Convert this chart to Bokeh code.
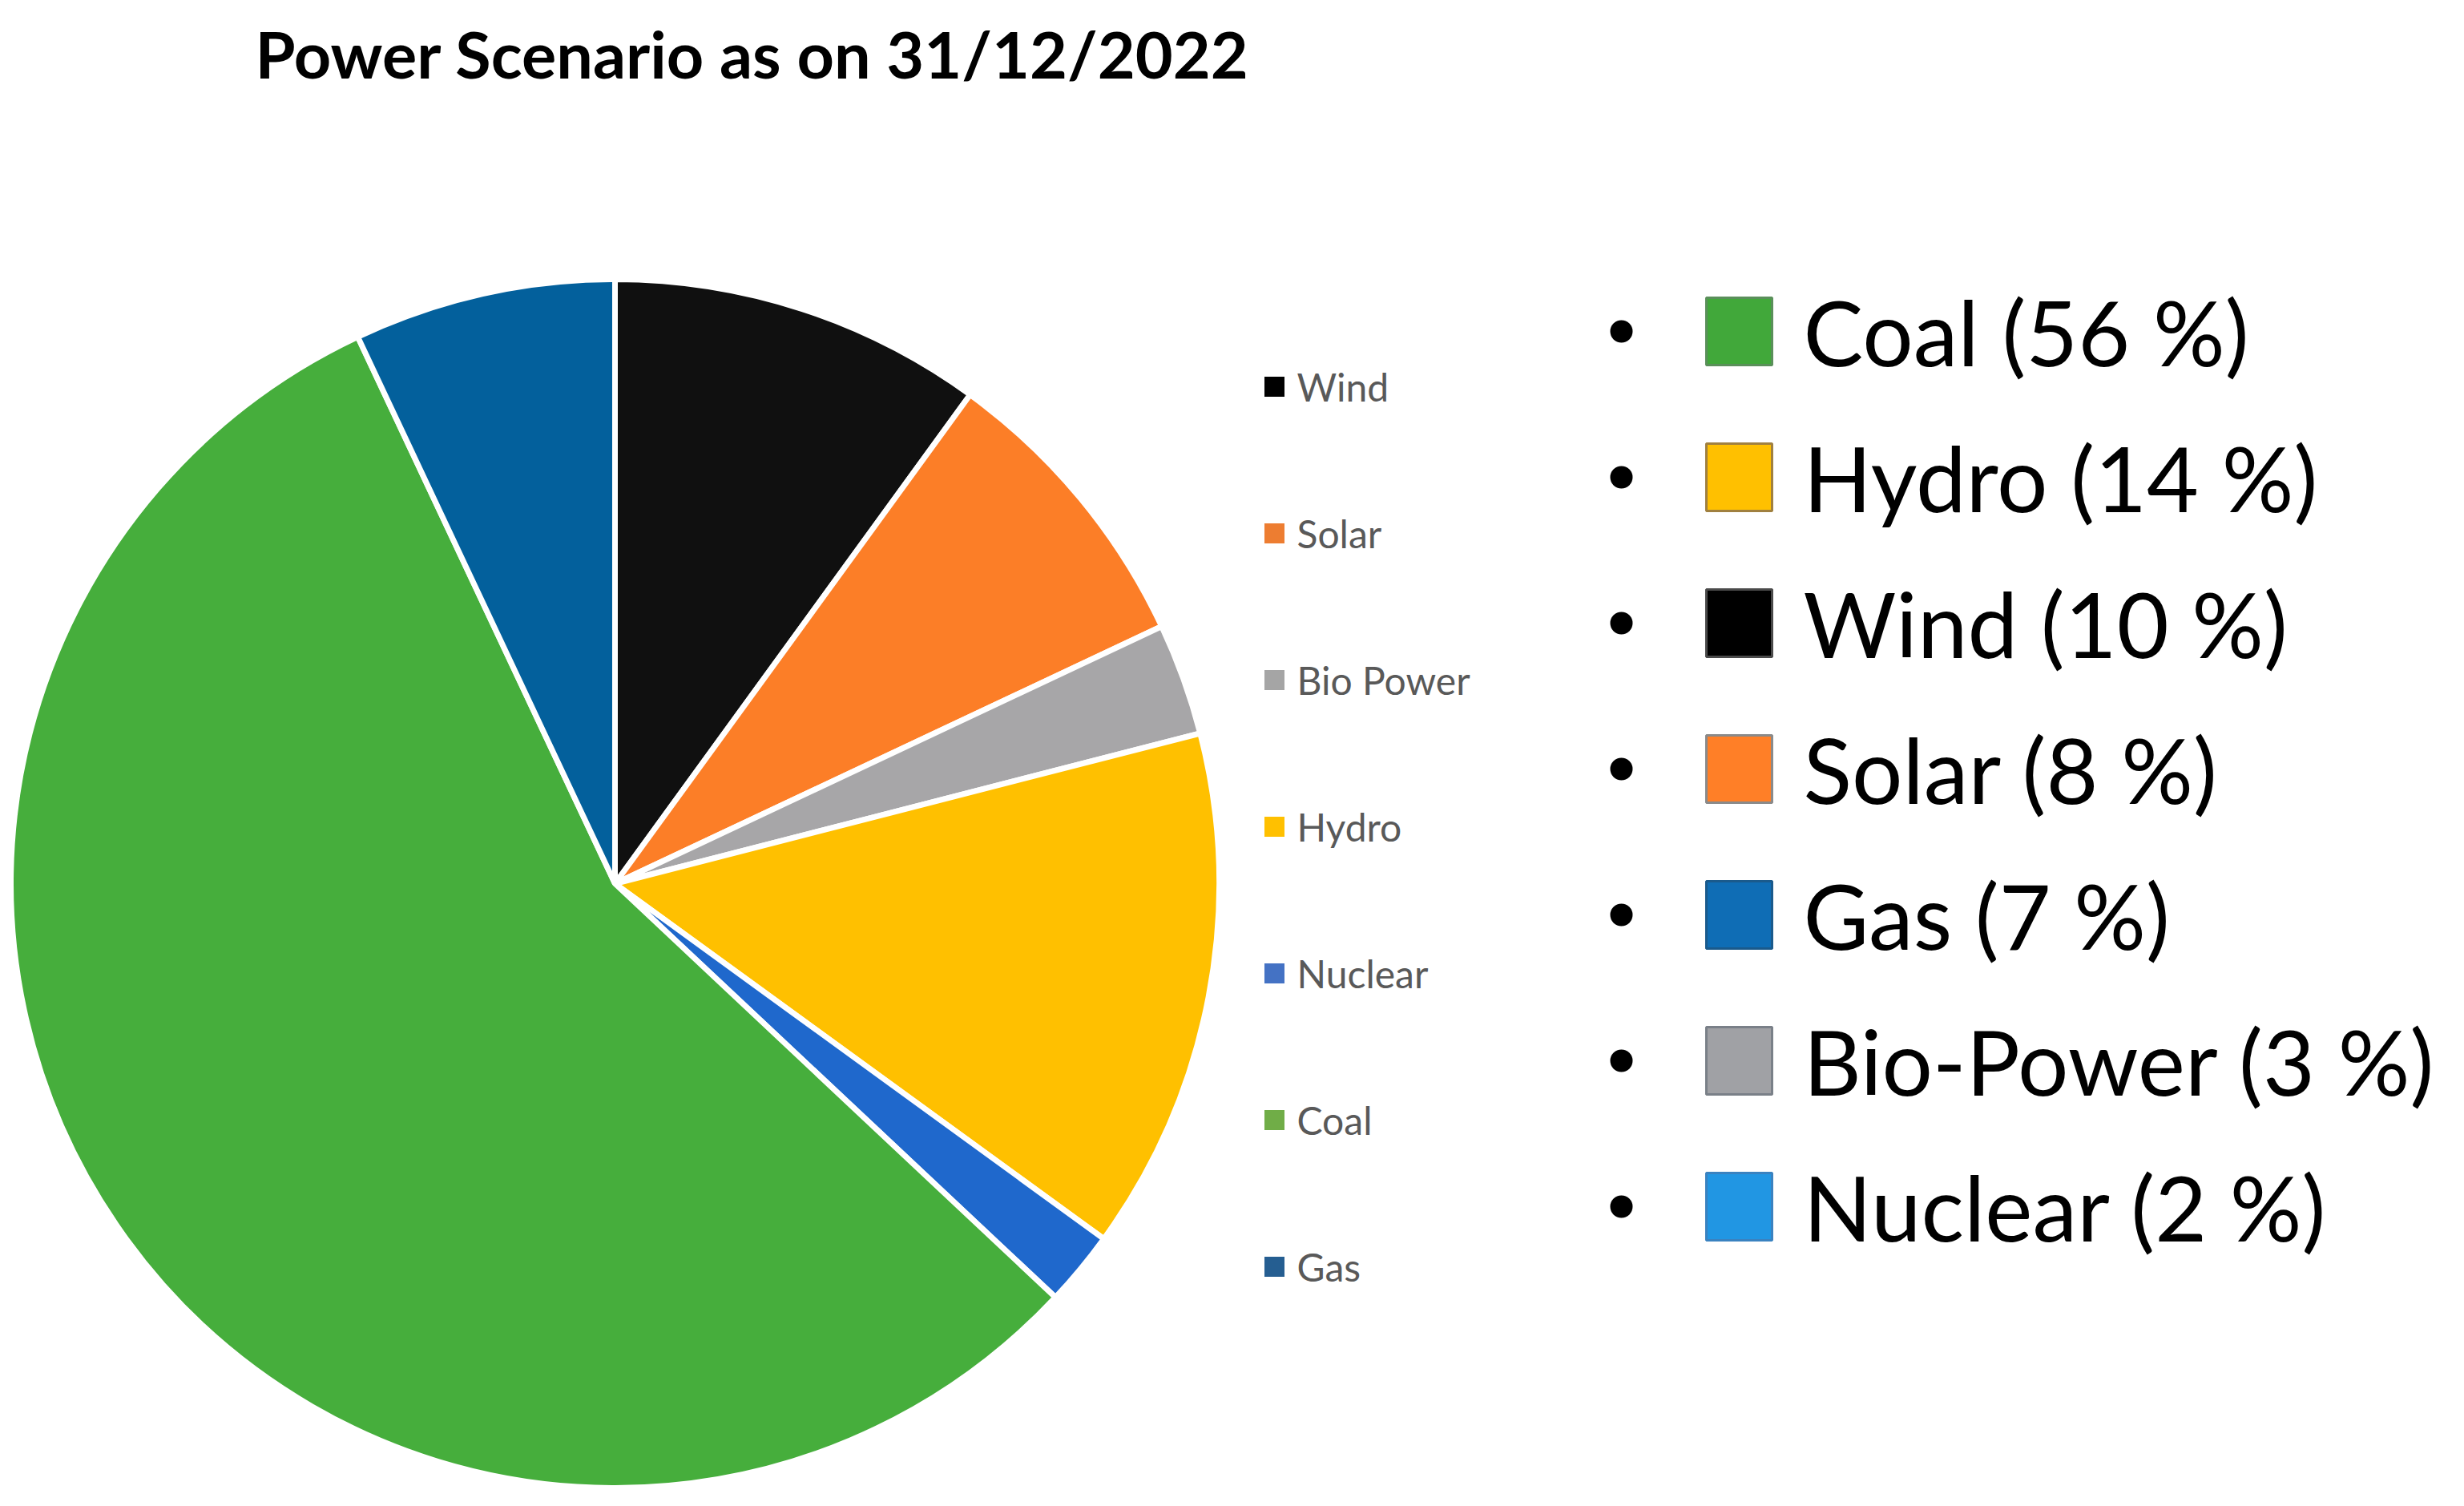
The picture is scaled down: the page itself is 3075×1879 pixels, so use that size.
import numpy as np
from bokeh.plotting import figure
from bokeh.models import Range1d, ColumnDataSource
from bokeh.core.properties import value
from bokeh.embed import file_html
from bokeh.resources import INLINE

# ---------------- data ----------------
title = "Power Scenario as on 31/12/2022"

pie_labels = ["Wind", "Solar", "Bio Power", "Hydro", "Nuclear", "Coal", "Gas"]
pie_shares = [10, 8, 3, 14, 2, 56, 7]
pie_colors = ["#101010", "#FC7E27", "#A7A6A8", "#FFC000", "#1F68CC", "#46AE3C", "#03609C"]
key_colors = ["#000000", "#ED7D31", "#A5A5A5", "#FFC000", "#4472C4", "#70AD47", "#255E91"]

list_labels = ["Coal", "Hydro", "Wind", "Solar", "Gas", "Bio-Power", "Nuclear"]
list_shares = [56, 14, 10, 8, 7, 3, 2]
list_fill = ["#41A83A", "#FFC000", "#000000", "#FF7F27", "#0F6DB5", "#A0A1A5", "#2196E3"]
list_line = ["#5A8F5A", "#A08040", "#4A4A4A", "#8A8A8A", "#1A5A8C", "#7A8088", "#3A82C0"]

# ---------------- layout (page pixels) ----------------
W, H = 3055, 1860
PAGE_H = 1879


def py(y):
    # page y (down) -> data y (up)
    return PAGE_H - y


p = figure(width=W, height=H, output_backend="svg", toolbar_location=None,
           x_range=Range1d(0, W), y_range=Range1d(PAGE_H - H, PAGE_H),
           x_axis_type=None, y_axis_type=None, min_border=0)
p.grid.visible = False
p.outline_line_color = None
p.background_fill_color = "white"
p.border_fill_color = "white"

# ---------------- pie ----------------
shares = np.array(pie_shares, dtype=float)
frac = shares / shares.sum()
cum_end = np.cumsum(frac)
cum_start = cum_end - frac
start_ang = np.pi / 2 - cum_end * 2 * np.pi
end_ang = np.pi / 2 - cum_start * 2 * np.pi

cx, cy = 767, 1102
pie_src = ColumnDataSource(dict(start=start_ang, end=end_ang, color=pie_colors, label=pie_labels))
p.wedge(x=cx, y=py(cy), radius=754, radius_units="screen",
        start_angle="start", end_angle="end", fill_color="color",
        line_color="white", line_width=7, source=pie_src)

# ---------------- chart key (middle) ----------------
key_y = [py(482 + i * 183) for i in range(len(pie_labels))]
key_src = ColumnDataSource(dict(x=[1590] * len(pie_labels), y=key_y, c=key_colors,
                                tx=[1618] * len(pie_labels), label=pie_labels))
p.rect(x="x", y="y", width=25, height=25, fill_color="c", line_color=None, source=key_src)
p.text(x="tx", y="y", text="label", text_font=value("Lato"), text_font_size="48px",
       text_color="#595959", text_baseline="middle", text_align="left", source=key_src)

# ---------------- bulleted list (right) ----------------
n = len(list_labels)
row_y = [py(413 + i * 182) for i in range(n)]
list_text = [f"{lab} ({s} %)" for lab, s in zip(list_labels, list_shares)]
list_src = ColumnDataSource(dict(bx=[2023] * n, y=row_y, sx=[2170] * n, fill=list_fill,
                                 line=list_line, tx=[2250] * n, label=list_text))
p.scatter(x="bx", y="y", size=28, marker="circle", fill_color="black", line_color=None,
          source=list_src)
p.rect(x="sx", y="y", width=82, height=84, fill_color="fill", line_color="line",
       line_width=3, source=list_src)
p.text(x="tx", y="y", text="label", text_font=value("Lato"), text_font_size="112px",
       text_color="black", text_baseline="middle", text_align="left", source=list_src)

# ---------------- title ----------------
p.text(x=[318], y=[py(66)], text=[title], text_font=value("Lato"), text_font_style="bold",
       text_font_size="81px", text_color="black", text_baseline="middle",
       text_align="left")

open("out.html", "w").write(file_html(p, INLINE))
